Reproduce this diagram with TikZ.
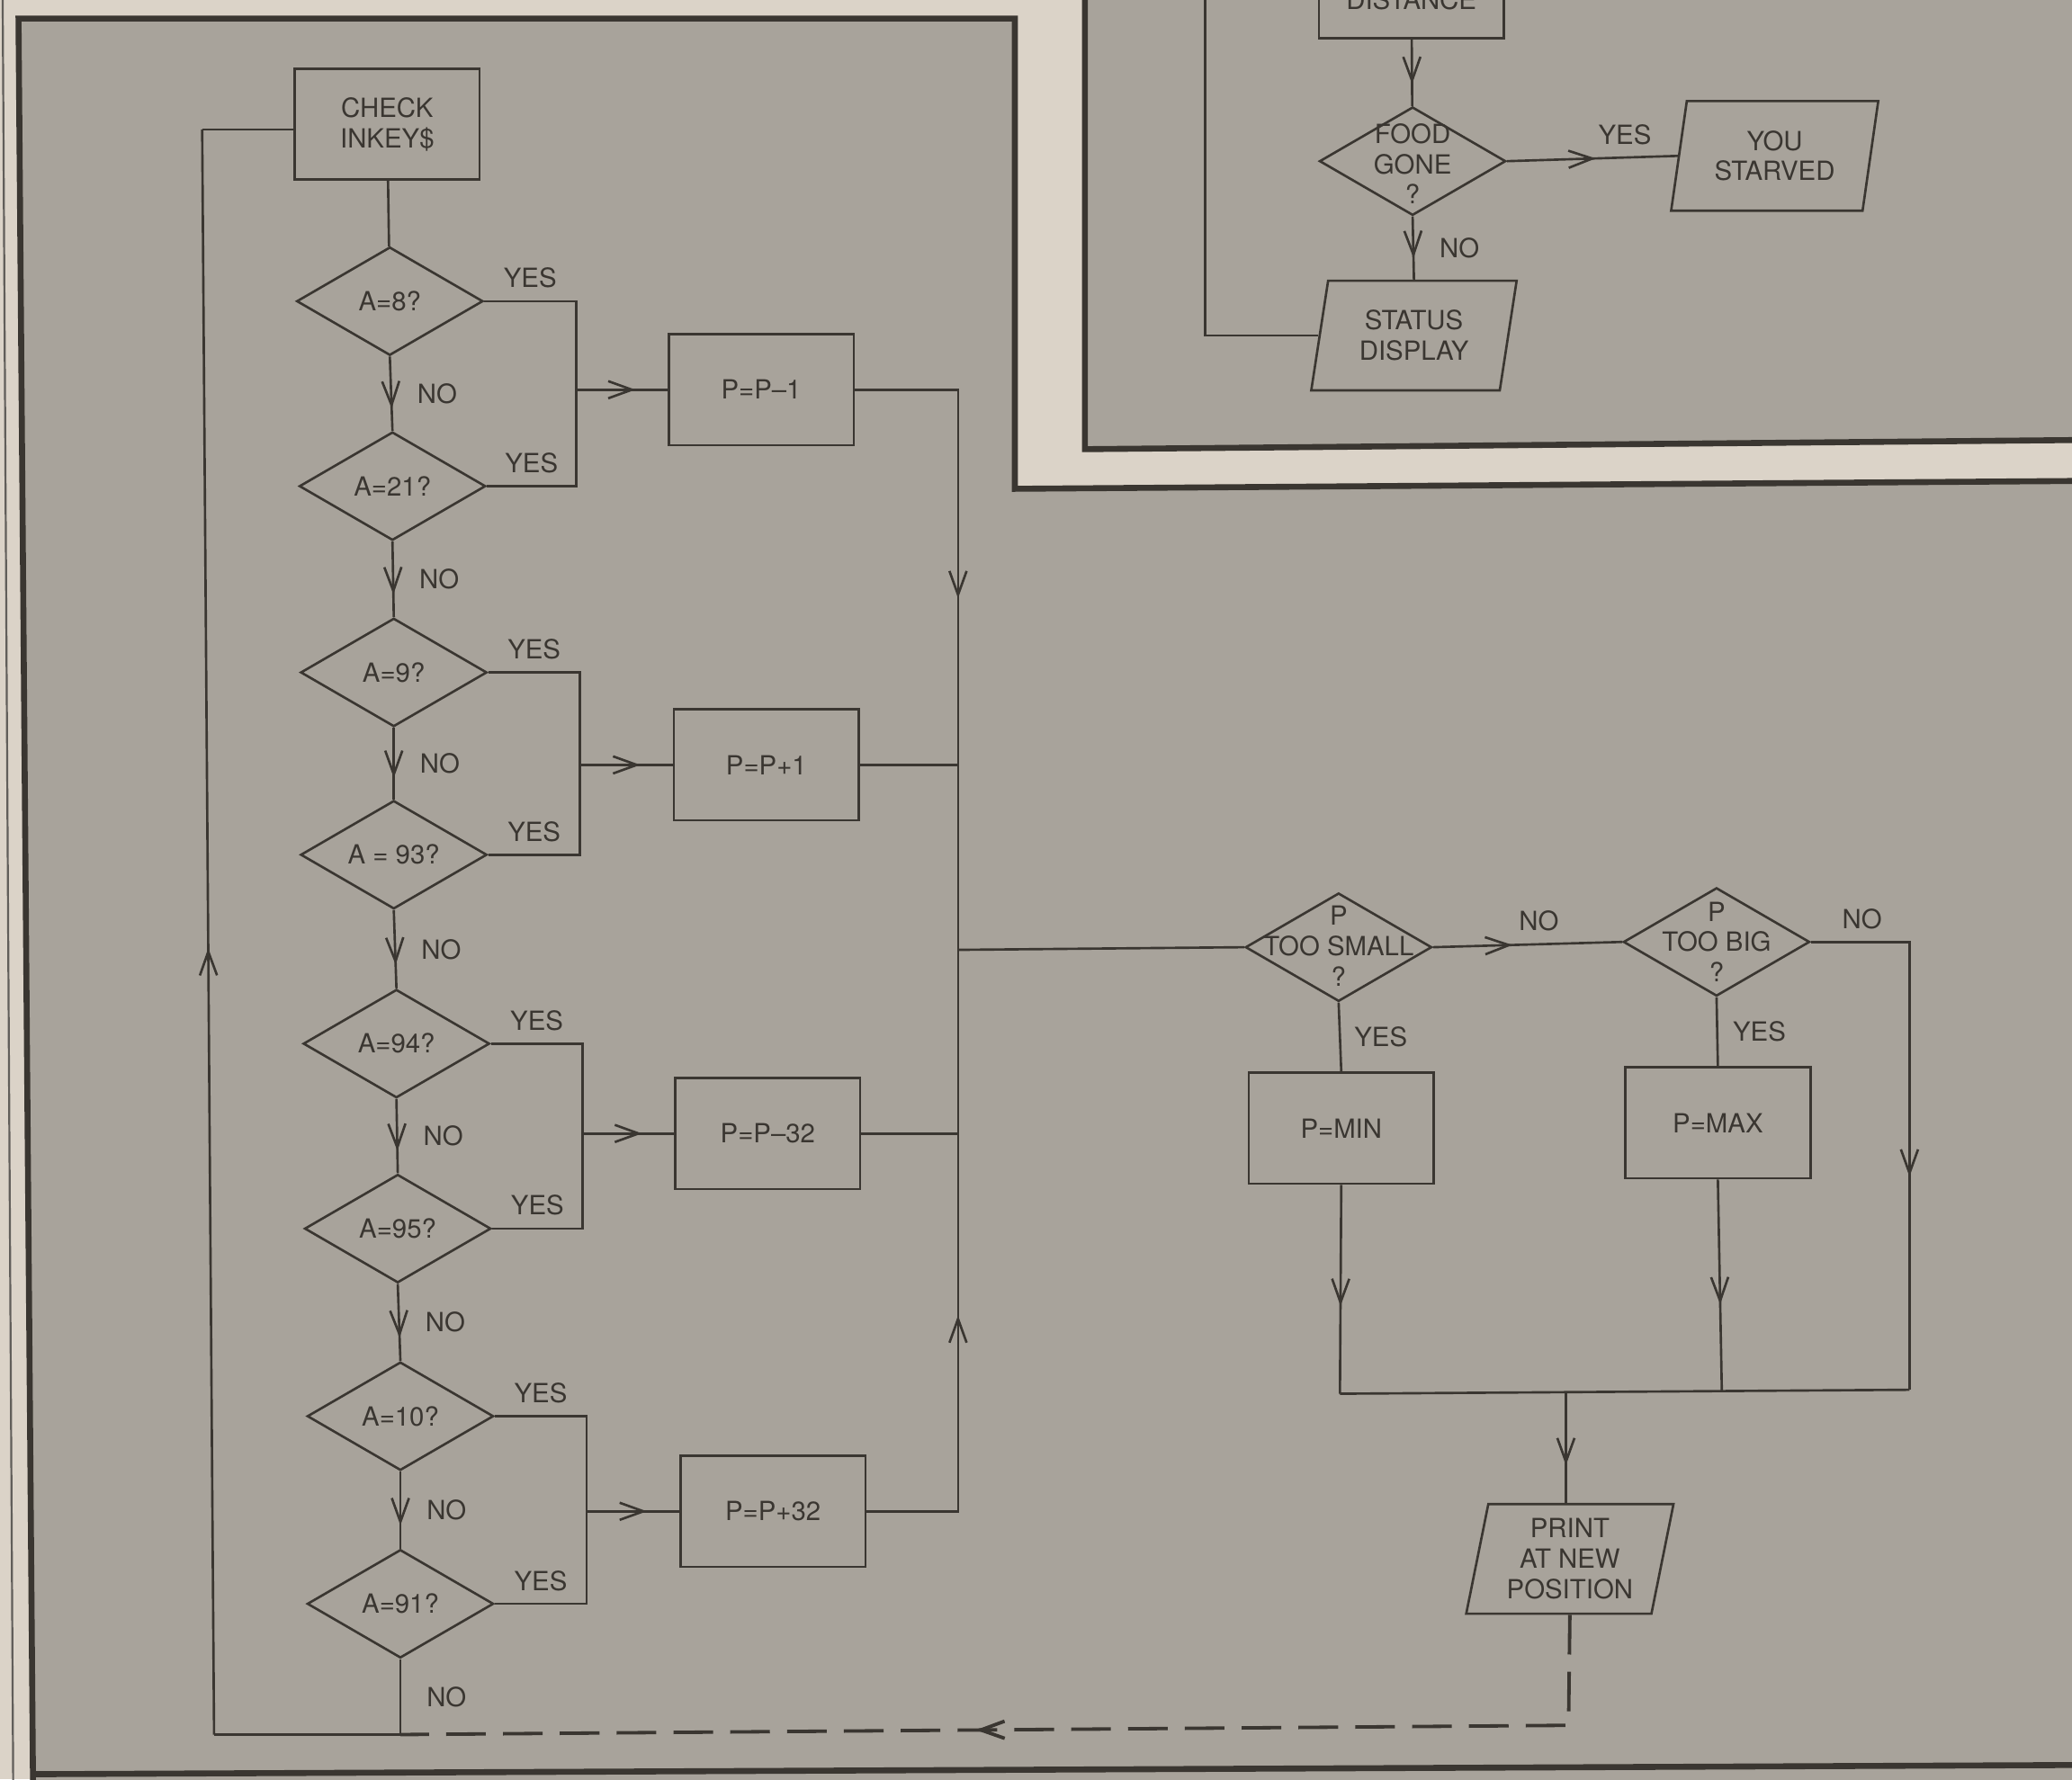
\documentclass[tikz,border=0pt]{standalone}
\usepackage{fontspec}
\setmainfont{TeX Gyre Heros}
\usetikzlibrary{shapes.geometric,arrows.meta,decorations.markings,positioning}
\definecolor{paper}{HTML}{DBD3C8}
\definecolor{panel}{HTML}{A8A39B}
\definecolor{ink}{HTML}{3A3631}
\begin{document}
\begin{tikzpicture}[x=1pt,y=-1pt,
    every node/.style={font=\fontsize{20}{23}\selectfont,text=ink,align=center},
    wire/.style={draw=ink,line width=1.8pt},
    border/.style={draw=ink,line width=4.5pt},
    box/.style={rectangle,wire,minimum width=140pt,minimum height=84pt,inner sep=0pt},
    dec/.style={diamond,wire,aspect=1.7,minimum width=141pt,minimum height=82pt,inner sep=0pt},
    io/.style={trapezium,trapezium left angle=78,trapezium right angle=102,trapezium stretches=true,wire,minimum width=157pt,minimum height=83pt,inner sep=0pt},
    arr/.style={postaction={decorate},decoration={markings,mark=at position #1 with {\arrow{Straight Barb[length=18pt,width=13pt]}}}},
    lab/.style={inner sep=3pt}]
  \clip (0,0) rectangle (1568,1347);
  \fill[paper] (0,0) rectangle (1568,1347);
  \fill[panel] (14,14) -- (768,14) -- (768,370) -- (1580,364) -- (1580,1352) -- (25,1352) -- cycle;
  \fill[panel] (821,-5) -- (1580,-5) -- (1580,333) -- (821,340) -- cycle;
  \draw[ink!80,line width=1.5pt] (2,-5) -- (10,1352);
  \draw[border] (25,1352) -- (14,14) -- (768,14) -- (768,370) -- (1580,364);
  \draw[border] (25,1343) -- (1580,1336);
  \draw[border] (821,-5) -- (821,340) -- (1580,333);

  \node[box] (dist) at (1068,-13) {};
  \node (distt) at (1068,0) {DISTANCE};
  \node[dec] (food) at (1069,122) {};
  \node (foodt) at (1069,124) {FOOD\\GONE\\?};
  \node[io] (starve) at (1343,118) {YOU\\STARVED};
  \node[io] (stat) at (1070,254) {STATUS\\DISPLAY};
  \coordinate (statup) at (912,-10);

  \node[box] (chk) at (293,94) {CHECK\\INKEY\$};
  \node[dec] (d1) at (295,228) {A=8?};
  \node[dec] (d2) at (297,368) {A=21?};
  \node[dec] (d3) at (298,509) {A=9?};
  \node[dec] (d4) at (298,647) {A = 93?};
  \node[dec] (d5) at (300,790) {A=94?};
  \node[dec] (d6) at (301,930) {A=95?};
  \node[dec] (d7) at (303,1072) {A=10?};
  \node[dec] (d8) at (303,1214) {A=91?};
  \node[box] (b1) at (576,295) {P=P--1};
  \node[box] (b2) at (580,579) {P=P+1};
  \node[box] (b3) at (581,858) {P=P--32};
  \node[box] (b4) at (585,1144) {P=P+32};
  \coordinate (j1) at (436,295);
  \coordinate (j2) at (439,579);
  \coordinate (j3) at (441,858);
  \coordinate (j4) at (444,1144);
  \coordinate (hub) at (725,719);
  \coordinate (lp1) at (303,1313);
  \coordinate (lp2) at (162,1313);
  \coordinate (lp3) at (153,98);

  \node[dec] (ps) at (1013,717) {};
  \node (pst) at (1013,716) {P\\TOO SMALL\\?};
  \node[dec] (pb) at (1299,713) {};
  \node (pbt) at (1299,713) {P\\TOO BIG\\?};
  \node[box] (pmin) at (1015,854) {P=MIN};
  \node[box] (pmax) at (1300,850) {P=MAX};
  \coordinate (mj) at (1014,1055);
  \coordinate (xj) at (1303,1053);
  \coordinate (rj) at (1445,1052);
  \coordinate (pj) at (1185,1054);
  \node[io] (print) at (1188,1180) {PRINT\\AT NEW\\POSITION};
  \coordinate (dc) at (1187,1306);

  \draw[wire,arr=.67] (dist) -- (food);
  \draw[wire,arr=.52] (food.east) -- node[lab,pos=.69,above=6pt] {YES} (starve.west);
  \draw[wire,arr=.66] (food.south) -- node[lab,right=16pt] {NO} (stat.north);
  \draw[wire] (stat.west) -| (statup);

  \draw[wire] (chk) -- (d1);
  \draw[wire,arr=.7] (d1.south) -- node[lab,right=16pt] {NO} (d2.north);
  \draw[wire,arr=.7] (d2.south) -- node[lab,right=16pt] {NO} (d3.north);
  \draw[wire,arr=.7] (d3.south) -- node[lab,right=16pt] {NO} (d4.north);
  \draw[wire,arr=.7] (d4.south) -- node[lab,right=16pt] {NO} (d5.north);
  \draw[wire,arr=.7] (d5.south) -- node[lab,right=16pt] {NO} (d6.north);
  \draw[wire,arr=.7] (d6.south) -- node[lab,right=16pt] {NO} (d7.north);
  \draw[wire,arr=.7] (d7.south) -- node[lab,right=16pt] {NO} (d8.north);
  \draw[wire] (d8.south) -- node[lab,right=16pt] {NO} (lp1);
  \draw[wire] (lp1) -- (lp2);
  \draw[wire,arr=.49] (lp2) -- (lp3);
  \draw[wire] (lp3) -- (lp3 -| chk.west);

  \draw[wire] (d1.east) -| node[lab,pos=.25,above=6pt] {YES} (j1);
  \draw[wire] (d2.east) -| node[lab,pos=.25,above=6pt] {YES} (j1);
  \draw[wire] (d3.east) -| node[lab,pos=.25,above=6pt] {YES} (j2);
  \draw[wire] (d4.east) -| node[lab,pos=.25,above=6pt] {YES} (j2);
  \draw[wire] (d5.east) -| node[lab,pos=.25,above=6pt] {YES} (j3);
  \draw[wire] (d6.east) -| node[lab,pos=.25,above=6pt] {YES} (j3);
  \draw[wire] (d7.east) -| node[lab,pos=.25,above=6pt] {YES} (j4);
  \draw[wire] (d8.east) -| node[lab,pos=.25,above=6pt] {YES} (j4);
  \draw[wire,arr=.65] (j1) -- (b1);
  \draw[wire,arr=.65] (j2) -- (b2);
  \draw[wire,arr=.65] (j3) -- (b3);
  \draw[wire,arr=.65] (j4) -- (b4);

  \draw[wire,arr=.47] (b1.east) -| (hub);
  \draw[wire] (b2.east) -- (b2.east -| hub);
  \draw[wire] (b3.east) -- (b3.east -| hub);
  \draw[wire,arr=.44] (b4.east) -| (hub);
  \draw[wire] (hub) -- (ps.west);

  \draw[wire,arr=.42] (ps.east) -- node[lab,pos=.56,above=6pt] {NO} (pb.west);
  \draw[wire,arr=.61] (pb.east) -| node[lab,pos=.26,above=6pt] {NO} (rj);
  \draw[wire] (ps.south) -- node[lab,right=7pt] {YES} (pmin.north);
  \draw[wire] (pb.south) -- node[lab,right=8pt] {YES} (pmax.north);
  \draw[wire,arr=.58] (pmin.south) -- (mj);
  \draw[wire,arr=.59] (pmax.south) -- (xj);
  \draw[wire] (mj) -- (rj);
  \draw[wire,arr=.66] (pj) -- (pj |- print.north);
  \draw[wire,line width=2.6pt,dash pattern=on 30pt off 13pt,arr=.55] (print.south) -- (dc) -- (lp1);
\end{tikzpicture}
\end{document}
